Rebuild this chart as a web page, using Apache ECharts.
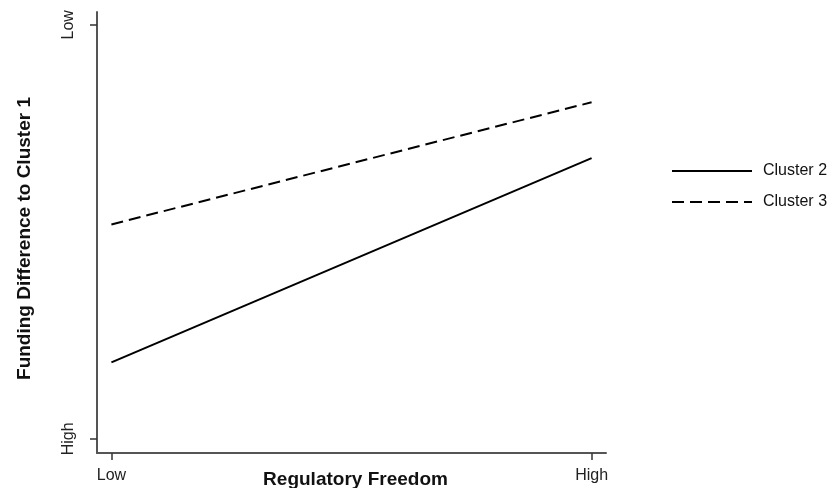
<!DOCTYPE html>
<html>
<head>
<meta charset="utf-8">
<script src="https://cdn.jsdelivr.net/npm/echarts@6/dist/echarts.min.js"></script>
<style>html,body{margin:0;padding:0;background:#fff}#c{width:829px;height:488px}</style>
</head>
<body>
<div id="c"></div>
<script>
const xTickValues = [0, 1];
const xTickLabels = ['Low', 'High'];
const yTickValues = [0, 1];
const yTickLabels = ['High', 'Low'];
const seriesNames = ['Cluster 2', 'Cluster 3'];
const cluster2 = [[0, 0.185], [1, 0.678]];
const cluster3 = [[0, 0.518], [1, 0.813]];

const FONT = 'Liberation Sans, Arial, sans-serif';
const chart = echarts.init(document.getElementById('c'), null, {renderer: 'canvas'});
chart.setOption({
  animation: false,
  backgroundColor: '#fff',
  textStyle: {fontFamily: FONT},
  grid: {left: 97, right: 223, top: 12, bottom: 35, containLabel: false, outerBoundsMode: 'none'},
  legend: {
    orient: 'vertical', left: 671, top: 163, padding: 0,
    itemWidth: 80, itemHeight: 16, itemGap: 15,
    itemStyle: {opacity: 0},
    textStyle: {fontFamily: FONT, fontSize: 16, color: '#111', padding: [0, 0, 0, 6]},
    data: seriesNames
  },
  xAxis: {
    type: 'value', min: -0.03, max: 1.03,
    name: 'Regulatory Freedom', nameLocation: 'middle', nameGap: 17, nameMoveOverlap: false,
    nameTextStyle: {fontFamily: FONT, fontSize: 19, fontWeight: 'bold', color: '#111', padding: [0, 0, 0, 8]},
    axisLine: {onZero: false, lineStyle: {color: '#555', width: 2}},
    axisTick: {show: true, length: 7, customValues: xTickValues, lineStyle: {color: '#333', width: 1.5}},
    axisLabel: {customValues: xTickValues, margin: 15, fontSize: 16, color: '#222', fontFamily: FONT,
      formatter: v => xTickLabels[xTickValues.indexOf(v)]},
    splitLine: {show: false}
  },
  yAxis: {
    type: 'value', min: -0.034, max: 1.031,
    name: 'Funding Difference to Cluster 1', nameLocation: 'middle', nameGap: 63, nameRotate: 90, nameMoveOverlap: false,
    nameTextStyle: {fontFamily: FONT, fontSize: 19, fontWeight: 'bold', color: '#111', padding: [0, 12, 0, 0]},
    axisLine: {onZero: false, lineStyle: {color: '#555', width: 2}},
    axisTick: {show: true, length: 7, customValues: yTickValues, lineStyle: {color: '#333', width: 1.5}},
    axisLabel: {customValues: yTickValues, rotate: 90, margin: 20, fontSize: 16, color: '#222', fontFamily: FONT,
      formatter: v => yTickLabels[yTickValues.indexOf(v)]},
    splitLine: {show: false}
  },
  series: [
    {name: seriesNames[0], type: 'line', data: cluster2, symbol: 'none',
     lineStyle: {color: '#000', width: 2, type: 'solid'}, itemStyle: {color: '#000'}},
    {name: seriesNames[1], type: 'line', data: cluster3, symbol: 'none',
     lineStyle: {color: '#000', width: 2, type: [12, 6]}, itemStyle: {color: '#000'}}
  ]
});
</script>
</body>
</html>
